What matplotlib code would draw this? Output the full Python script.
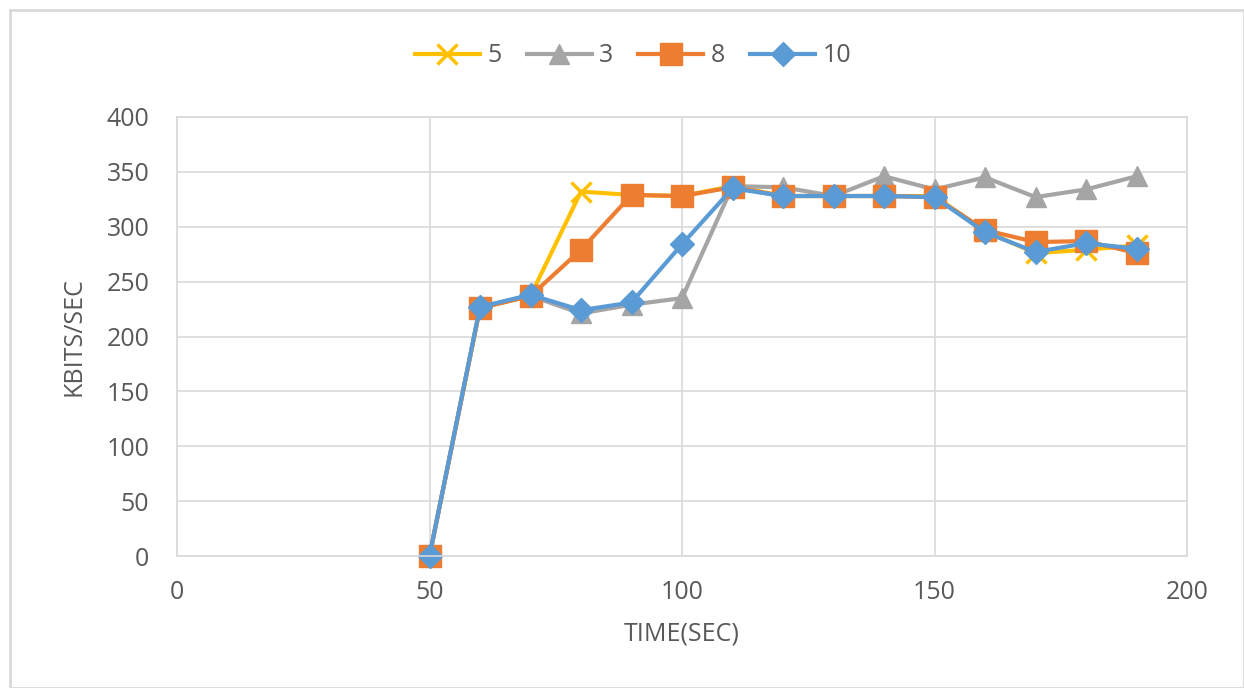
import matplotlib.pyplot as plt
from matplotlib.patches import Rectangle

time_sec = [50, 60, 70, 80, 90, 100, 110, 120, 130, 140, 150, 160, 170, 180, 190]

# throughput per configuration, kbits/sec
s5 = [0, 226, 237, 332, 329, 328, 337, 328, 328, 328, 328, 296, 276, 279, 283]
s3 = [0, 226, 237, 221, 229, 235, 337, 336, 328, 346, 334, 345, 327, 334, 346]
s8 = [0, 226, 237, 279, 329, 328, 336, 328, 328, 328, 327, 297, 286, 287, 276]
s10 = [0, 227, 238, 224, 231, 284, 335, 328, 328, 328, 327, 295, 277, 285, 280]

labels = ['5', '3', '8', '10']

plt.rcParams['font.family'] = ['Open Sans', 'DejaVu Sans']

fig = plt.figure(figsize=(12.44, 6.88), dpi=100)
W, H = 1244, 688
ax = fig.add_axes([177 / W, 1 - 556 / H, (1187 - 177) / W, (556 - 117) / H])

fig.patches.append(Rectangle((10 / W, 0), 1 - 10 / W, 1 - 10 / H, transform=fig.transFigure,
                             fill=False, edgecolor='#d9d9d9', linewidth=2))

lw = 3
ax.plot(time_sec, s5, color='#FFC000', lw=lw, marker='x', ms=14, mew=2.5, label=labels[0], clip_on=False)
ax.plot(time_sec, s3, color='#A5A5A5', lw=lw, marker='^', ms=15, label=labels[1], clip_on=False)
ax.plot(time_sec, s8, color='#ED7D31', lw=lw, marker='s', ms=16, label=labels[2], clip_on=False)
ax.plot(time_sec, s10, color='#5B9BD5', lw=lw, marker='D', ms=12, label=labels[3], clip_on=False)

ax.set_xlim(0, 200)
ax.set_ylim(0, 400)
ax.set_xticks(range(0, 201, 50))
ax.set_yticks(range(0, 401, 50))
ax.grid(True, color='#d9d9d9', lw=1.2)
ax.set_axisbelow(True)
for sp in ax.spines.values():
    sp.set_color('#d9d9d9')
    sp.set_linewidth(1.2)
ax.tick_params(length=0, labelsize=18, colors='#595959')
ax.tick_params(axis='x', pad=17)
ax.tick_params(axis='y', pad=20)
ax.set_xlabel('TIME(SEC)', fontsize=18, color='#595959', labelpad=12)
ax.set_ylabel('KBITS/SEC', fontsize=18, color='#595959', labelpad=14)

fig.legend(loc='center', bbox_to_anchor=(633 / W, 1 - 56 / H), ncol=4, frameon=False,
           fontsize=18, labelcolor='#595959', handlelength=2.6, columnspacing=1.0,
           handletextpad=0.3)

fig.savefig('out.png', dpi=100)
